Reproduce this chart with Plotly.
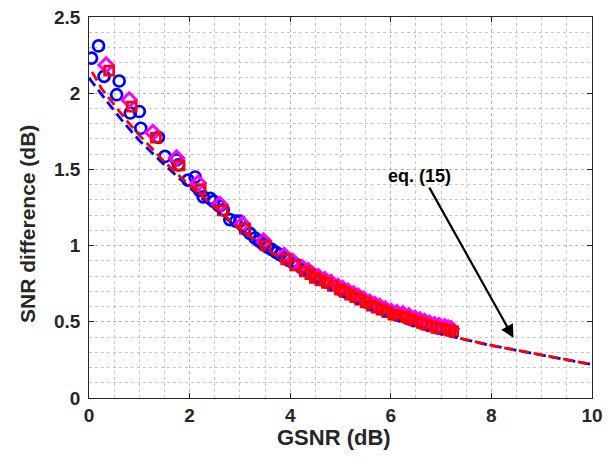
import plotly.graph_objects as go

# eq. (15) curves
line_x = [0, 0.25, 0.5, 0.75, 1, 1.5, 2, 2.5, 3, 3.5, 4, 4.5, 5, 5.5, 6, 6.5, 7, 7.5, 8, 8.5, 9, 9.5, 10]
red_line_y = [2.14, 2.03, 1.925, 1.82, 1.725, 1.55, 1.395, 1.25, 1.11, 0.985, 0.875, 0.77, 0.675, 0.595, 0.525, 0.468, 0.42, 0.38, 0.345, 0.314, 0.284, 0.251, 0.22]
blue_line_y = [2.10, 1.99, 1.885, 1.785, 1.69, 1.53, 1.38, 1.24, 1.105, 0.982, 0.873, 0.769, 0.674, 0.594, 0.524, 0.467, 0.419, 0.379, 0.344, 0.313, 0.283, 0.250, 0.219]

# blue circles
circ_x = [0.05, 0.19, 0.30, 0.55, 0.60, 0.82, 1.00, 1.03, 1.38, 1.51, 1.74, 1.78, 1.97, 2.11, 2.20, 2.27, 2.41, 2.48,
          2.60, 2.67, 2.80, 2.92, 3.00, 3.10, 3.20, 3.30, 3.38, 3.46, 3.55, 3.63, 3.72, 3.80, 3.88, 3.96, 4.05, 4.13,
          4.22, 4.30, 4.40, 4.50, 4.60]
circ_y = [2.23, 2.31, 2.11, 1.99, 2.08, 1.87, 1.88, 1.77, 1.71, 1.585, 1.563, 1.53, 1.43, 1.45, 1.36, 1.32, 1.31, 1.29,
          1.26, 1.235, 1.17, 1.16, 1.16, 1.11, 1.08, 1.05, 1.03, 1.01, 0.99, 0.975, 0.955, 0.94, 0.925, 0.905, 0.89, 0.875,
          0.855, 0.84, 0.82, 0.80, 0.785]

# magenta diamonds
dia_x = [0.34, 0.80, 1.27, 1.74, 2.17, 2.60, 3.05, 3.47, 3.88, 4.05, 4.24, 4.36, 4.45, 4.56, 4.69, 4.81, 4.95, 5.04,
         5.15, 5.26, 5.35, 5.46, 5.58, 5.68, 5.78, 5.89, 6.01, 6.12, 6.24, 6.36, 6.48, 6.58, 6.67, 6.77, 6.87, 6.96,
         7.07, 7.14, 7.20]
dia_y = [2.185, 1.956, 1.742, 1.574, 1.41, 1.27, 1.14, 1.03, 0.935, 0.895, 0.855, 0.835, 0.81, 0.795, 0.775, 0.757,
         0.732, 0.718, 0.70, 0.683, 0.667, 0.648, 0.628, 0.614, 0.60, 0.584, 0.568, 0.56, 0.552, 0.538, 0.523, 0.512,
         0.502, 0.49, 0.48, 0.474, 0.467, 0.46, 0.455]

# red squares
sq_x = [0.40, 0.85, 1.33, 1.80, 2.22, 2.66, 3.10, 3.51, 3.92, 4.10, 4.29, 4.40, 4.49, 4.60, 4.73, 4.85, 4.99, 5.08,
        5.19, 5.30, 5.39, 5.50, 5.62, 5.72, 5.82, 5.93, 6.05, 6.16, 6.28, 6.40, 6.52, 6.62, 6.71, 6.81, 6.91, 7.00,
        7.11, 7.18, 7.24]
sq_y = [2.148, 1.912, 1.709, 1.526, 1.371, 1.231, 1.111, 1.001, 0.910, 0.870, 0.831, 0.812, 0.788, 0.772, 0.755,
        0.735, 0.711, 0.697, 0.678, 0.662, 0.645, 0.627, 0.606, 0.593, 0.580, 0.563, 0.547, 0.540, 0.532, 0.518,
        0.503, 0.492, 0.482, 0.470, 0.460, 0.455, 0.449, 0.443, 0.438]

x_ticks = [0, 2, 4, 6, 8, 10]
y_ticks = [0, 0.5, 1, 1.5, 2, 2.5]
y_tick_labels = ["0", "0.5", "1", "1.5", "2", "2.5"]

W, H = 610, 462
ML, MR, MT, MB = 89, 18, 17, 64

fig = go.Figure()

fig.add_trace(go.Scatter(x=circ_x, y=circ_y, mode="markers",
                         marker=dict(symbol="circle-open", size=11, color="#0000ff", line=dict(width=2.7, color="#0000ff"))))
fig.add_trace(go.Scatter(x=dia_x, y=dia_y, mode="markers",
                         marker=dict(symbol="diamond-open", size=11, color="#ff00ff", line=dict(width=3, color="#ff00ff"))))
fig.add_trace(go.Scatter(x=sq_x, y=sq_y, mode="markers",
                         marker=dict(symbol="square-open", size=9, color="#ff0000", line=dict(width=2.7, color="#ff0000"))))
fig.add_trace(go.Scatter(x=line_x, y=blue_line_y, mode="lines",
                         line=dict(color="#0000ff", width=2.8, dash="10px,5px")))
fig.add_trace(go.Scatter(x=[v + 0.06 for v in line_x[:1]] + line_x[1:], y=red_line_y, mode="lines",
                         line=dict(color="#ff0000", width=2.8, dash="10px,5px")))

font_fam = "Liberation Sans, Arial, sans-serif"

fig.add_annotation(x=8.44, y=0.394, ax=6.75, ay=1.39, xref="x", yref="y", axref="x", ayref="y",
                   text="", showarrow=True, arrowhead=2, arrowsize=1.2, arrowwidth=2.2, arrowcolor="black")
fig.add_annotation(x=6.58, y=1.46, xref="x", yref="y", text="eq. (15)", showarrow=False,
                   font=dict(family=font_fam, size=18, color="black", weight="bold"))

# axis titles placed as paper annotations
pw, ph = W - ML - MR, H - MT - MB
fig.add_annotation(x=(334 - ML) / pw, y=(H - MB - 437) / ph, xref="paper", yref="paper",
                   text="GSNR (dB)", showarrow=False, xanchor="center", yanchor="middle",
                   font=dict(family=font_fam, size=22, color="#262626", weight="bold"))
fig.add_annotation(x=(28 - ML) / pw, y=(H - MB - 224) / ph, xref="paper", yref="paper",
                   text="SNR difference (dB)", showarrow=False, textangle=-90, xanchor="center", yanchor="middle",
                   font=dict(family=font_fam, size=21, color="#262626", weight="bold"))

axis_common = dict(
    showline=True, linecolor="#262626", linewidth=1.2, mirror="ticks",
    ticks="inside", ticklen=5, tickwidth=1, tickcolor="#262626",
    showgrid=True, gridcolor="#b5b5b5", griddash="dot", gridwidth=1,
    zeroline=False, automargin=False,
    tickfont=dict(family=font_fam, size=19, color="#262626", weight="bold"),
)

fig.update_xaxes(range=[0, 10], tickvals=x_ticks, ticktext=[str(v) for v in x_ticks],
                 minor=dict(dtick=0.5, showgrid=True, gridcolor="#c8c8c8", griddash="dot", gridwidth=1, ticks=""),
                 **axis_common)
fig.update_yaxes(range=[0, 2.5], tickvals=y_ticks, ticktext=[t + "\u2009" for t in y_tick_labels],
                 minor=dict(dtick=0.1, showgrid=True, gridcolor="#c8c8c8", griddash="dot", gridwidth=1, ticks=""),
                 **axis_common)

fig.update_layout(width=W, height=H, showlegend=False,
                  margin=dict(l=ML, r=MR, t=MT, b=MB),
                  plot_bgcolor="white", paper_bgcolor="white")

fig.write_html("out.html", config={"displayModeBar": False},
               post_script="document.body.style.margin='0';")
